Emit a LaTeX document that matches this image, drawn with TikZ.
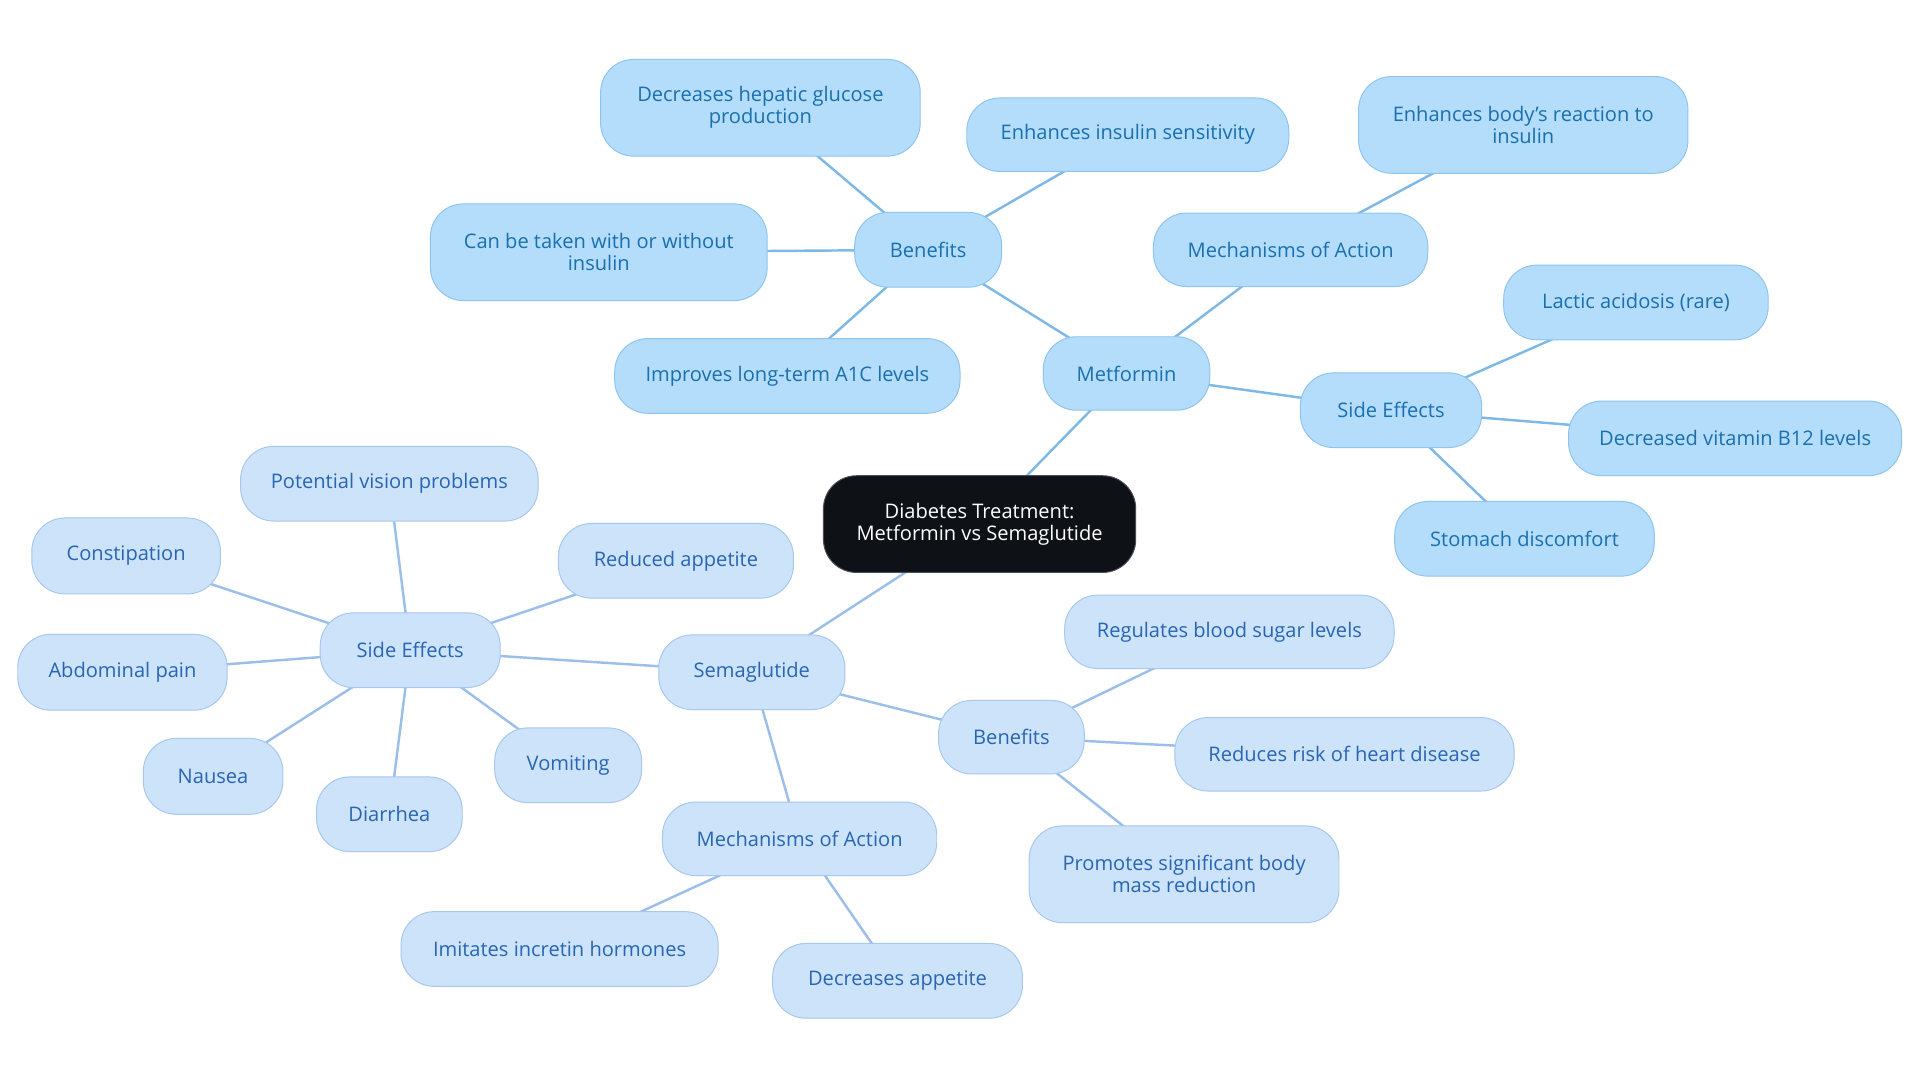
\documentclass[tikz,border=0pt]{standalone}
\usepackage{fontspec}
\setmainfont{Open Sans}
\usetikzlibrary{backgrounds}
\definecolor{mfill}{HTML}{B3DDFB}
\definecolor{mborder}{HTML}{8FC4EE}
\definecolor{mtext}{HTML}{1A70AE}
\definecolor{mline}{HTML}{7DB8E6}
\definecolor{sfill}{HTML}{CDE3FA}
\definecolor{sborder}{HTML}{A6C7EE}
\definecolor{stext}{HTML}{2866B4}
\definecolor{sline}{HTML}{9BBFEA}
\definecolor{rootfill}{HTML}{0E1116}
\definecolor{rootborder}{HTML}{4A4F57}
\tikzset{
  base/.style={rounded corners=27pt, line width=0.8pt, inner sep=0pt, align=center,
    font=\fontsize{16.4}{18}\selectfont},
  mbox/.style={base, fill=mfill, draw=mborder, text=mtext},
  sbox/.style={base, fill=sfill, draw=sborder, text=stext},
  rootbox/.style={base, fill=rootfill, draw=rootborder, text=white},
  medge/.style={draw=mline, line width=2pt},
  sedge/.style={draw=sline, line width=2pt},
  sz/.style 2 args={minimum width=#1pt, minimum height=#2pt}
}
\begin{document}
\begin{tikzpicture}[x=1pt,y=-1pt]
\useasboundingbox (0,0) rectangle (1568,884.5);
% root
\node[rootbox, sz={255}{79}] (root) at (800,428) {Diabetes Treatment:\\Metformin vs Semaglutide};
% Metformin branch
\node[mbox, sz={136}{60}] (met) at (920,305) {Metformin};
\node[mbox, sz={120}{61}] (mben) at (758,204) {Benefits};
\node[mbox, sz={261}{79}] (mb1) at (621,88) {Decreases hepatic glucose\\production};
\node[mbox, sz={263}{60}] (mb2) at (921,110) {Enhances insulin sensitivity};
\node[mbox, sz={275}{79}] (mb3) at (489,206) {Can be taken with or without\\insulin};
\node[mbox, sz={282}{61}] (mb4) at (643,307) {Improves long-term A1C levels};
\node[mbox, sz={224}{60}] (mmech) at (1054,204) {Mechanisms of Action};
\node[mbox, sz={269}{79}] (mm1) at (1244,102) {Enhances body's reaction to\\insulin};
\node[mbox, sz={148}{61}] (mside) at (1136,335) {Side Effects};
\node[mbox, sz={216}{61}] (ms1) at (1336,247) {Lactic acidosis (rare)};
\node[mbox, sz={272}{61}] (ms2) at (1417,358) {Decreased vitamin B12 levels};
\node[mbox, sz={212}{61}] (ms3) at (1245,440) {Stomach discomfort};
% Semaglutide branch
\node[sbox, sz={152}{61}] (sem) at (614,549) {Semaglutide};
\node[sbox, sz={147}{61}] (sside) at (335,531) {Side Effects};
\node[sbox, sz={243}{61}] (ss1) at (318,395) {Potential vision problems};
\node[sbox, sz={154}{62}] (ss2) at (103,454) {Constipation};
\node[sbox, sz={171}{62}] (ss3) at (100,549) {Abdominal pain};
\node[sbox, sz={114}{62}] (ss4) at (174,634) {Nausea};
\node[sbox, sz={119}{61}] (ss5) at (318,665) {Diarrhea};
\node[sbox, sz={120}{61}] (ss6) at (464,625) {Vomiting};
\node[sbox, sz={192}{61}] (ss7) at (552,458) {Reduced appetite};
\node[sbox, sz={119}{60}] (sben) at (826,602) {Benefits};
\node[sbox, sz={269}{60}] (sb1) at (1004,516) {Regulates blood sugar levels};
\node[sbox, sz={277}{60}] (sb2) at (1098,616) {Reduces risk of heart disease};
\node[sbox, sz={253}{79}] (sb3) at (967,714) {Promotes significant body\\mass reduction};
\node[sbox, sz={224}{60}] (smech) at (653,685) {Mechanisms of Action};
\node[sbox, sz={259}{61}] (sm1) at (457,775) {Imitates incretin hormones};
\node[sbox, sz={204}{61}] (sm2) at (733,801) {Decreases appetite};
% edges
\begin{scope}[on background layer]
\draw[medge] (root.center) -- (met.center);
\draw[medge] (met.center) -- (mben.center);
\draw[medge] (mben.center) -- (mb1.center);
\draw[medge] (mben.center) -- (mb2.center);
\draw[medge] (mben.center) -- (mb3.center);
\draw[medge] (mben.center) -- (mb4.center);
\draw[medge] (met.center) -- (mmech.center);
\draw[medge] (mmech.center) -- (mm1.center);
\draw[medge] (met.center) -- (mside.center);
\draw[medge] (mside.center) -- (ms1.center);
\draw[medge] (mside.center) -- (ms2.center);
\draw[medge] (mside.center) -- (ms3.center);
\draw[sedge] (root.center) -- (sem.center);
\draw[sedge] (sem.center) -- (sside.center);
\draw[sedge] (sside.center) -- (ss1.center);
\draw[sedge] (sside.center) -- (ss2.center);
\draw[sedge] (sside.center) -- (ss3.center);
\draw[sedge] (sside.center) -- (ss4.center);
\draw[sedge] (sside.center) -- (ss5.center);
\draw[sedge] (sside.center) -- (ss6.center);
\draw[sedge] (sside.center) -- (ss7.center);
\draw[sedge] (sem.center) -- (sben.center);
\draw[sedge] (sben.center) -- (sb1.center);
\draw[sedge] (sben.center) -- (sb2.center);
\draw[sedge] (sben.center) -- (sb3.center);
\draw[sedge] (sem.center) -- (smech.center);
\draw[sedge] (smech.center) -- (sm1.center);
\draw[sedge] (smech.center) -- (sm2.center);
\end{scope}
\end{tikzpicture}
\end{document}
